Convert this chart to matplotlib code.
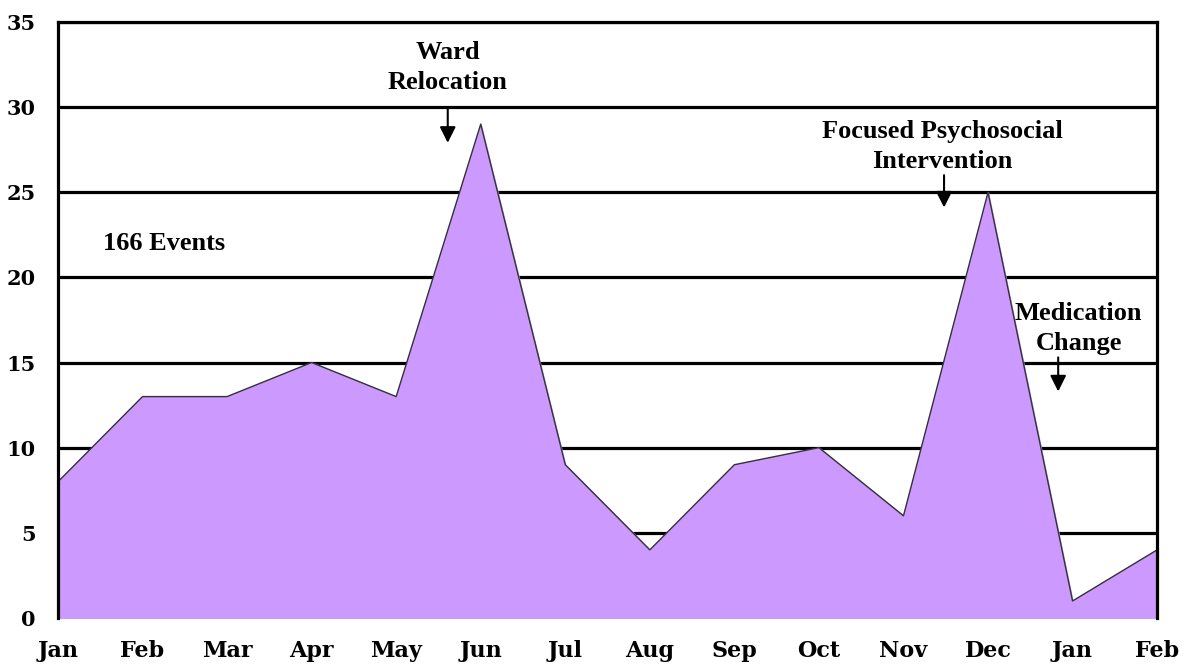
import numpy as np
import matplotlib
matplotlib.use("Agg")
import matplotlib.pyplot as plt

# ---------------- DATA ---------------- #
months = ["Jan", "Feb", "Mar", "Apr", "May", "Jun", "Jul",
          "Aug", "Sep", "Oct", "Nov", "Dec", "Jan", "Feb"]
events = [8, 13, 13, 15, 13, 29, 9, 4, 9, 10, 6, 25, 1, 4]
y_ticks = [0, 5, 10, 15, 20, 25, 30, 35]

plt.rcParams["font.family"] = ["Liberation Serif", "DejaVu Serif"]
plt.rcParams["font.weight"] = "bold"

fig = plt.figure(figsize=(11.88, 6.64), dpi=100)
ax = fig.add_axes([0.0488, 0.0693, 0.9252, 0.8977])

x = np.arange(len(months))

# gridlines under the area
for v in y_ticks[1:]:
    ax.axhline(v, color="black", linewidth=2.3, zorder=1)

ax.fill_between(x, events, 0, color="#CC99FF", zorder=2)
ax.plot(x, events, color="#333333", linewidth=1.0, zorder=3)

ax.set_xlim(0, len(months) - 1)
ax.set_ylim(0, 35)
ax.set_xticks(x)
ax.set_xticklabels(months, fontsize=16, fontweight="bold", family="DejaVu Serif")
ax.set_yticks(y_ticks)
ax.set_yticklabels([str(v) for v in y_ticks], fontsize=15, fontweight="bold",
                   family="DejaVu Serif")
ax.tick_params(axis="x", length=0, pad=16)
ax.tick_params(axis="y", length=0, pad=16)

for side in ["left", "right", "top"]:
    ax.spines[side].set_linewidth(2.3)
    ax.spines[side].set_zorder(4)
ax.spines["bottom"].set_visible(False)

# annotations
txt = dict(fontsize=19, fontweight="bold", ha="center", va="center",
           linespacing=1.4, zorder=5)
arrow = dict(arrowstyle="-|>", color="black", linewidth=1.5,
             mutation_scale=24, shrinkA=0, shrinkB=0)

ax.text(4.61, 32.3, "Ward\nRelocation", **txt)
ax.annotate("", xy=(4.61, 27.9), xytext=(4.61, 30.0), arrowprops=arrow)

ax.text(10.46, 27.7, "Focused Psychosocial\nIntervention", **txt)
ax.annotate("", xy=(10.48, 24.1), xytext=(10.48, 26.0), arrowprops=arrow)

ax.text(12.07, 17.0, "Medication\nChange", **txt)
ax.annotate("", xy=(11.83, 13.3), xytext=(11.83, 15.3), arrowprops=arrow)

ax.text(0.53, 22.0, "166 Events", fontsize=19, fontweight="bold",
        ha="left", va="center", zorder=5)

fig.savefig("out.png", dpi=100)
